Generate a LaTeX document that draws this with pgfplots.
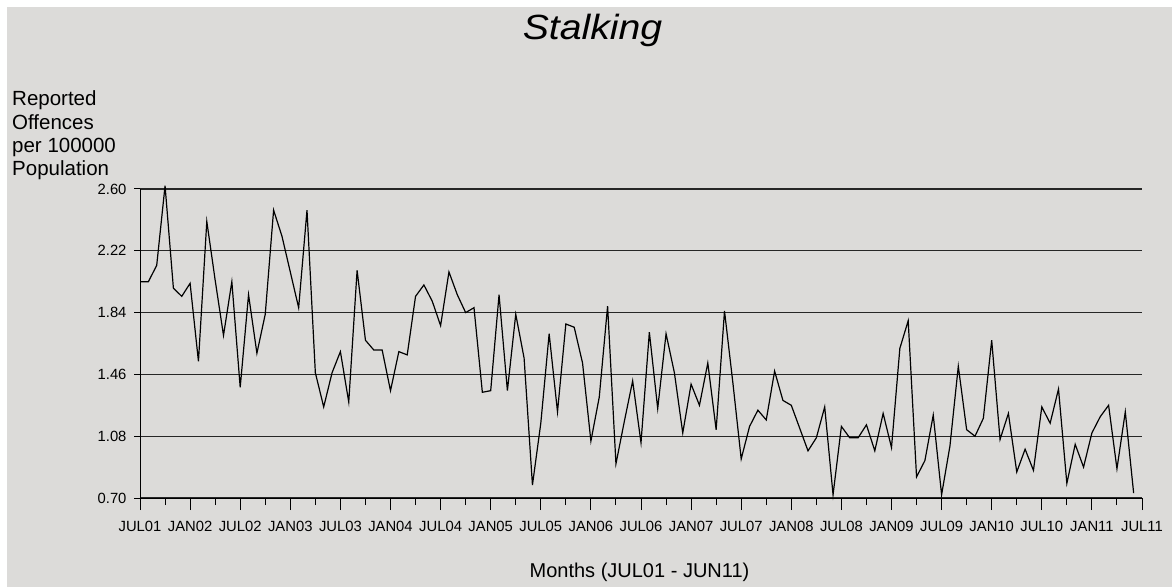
\documentclass[border=0pt]{standalone}
\usepackage{fontspec}
\setmainfont{Liberation Sans}
\usepackage{graphicx}
\usepackage{pgfplots}
\pgfplotsset{compat=1.18,
  /pgf/number format/assume math mode=true}
\usepackage{pgfplotstable}
\definecolor{bgc}{RGB}{220,219,217}
\pgfplotstableread{
m v
0 2.03
1 2.03
2 2.13
3 2.62
4 1.99
5 1.94
6 2.02
7 1.54
8 2.40
9 2.04
10 1.70
11 2.03
12 1.38
13 1.95
14 1.59
15 1.83
16 2.47
17 2.31
18 2.09
19 1.87
20 2.47
21 1.47
22 1.26
23 1.47
24 1.60
25 1.29
26 2.10
27 1.67
28 1.61
29 1.61
30 1.36
31 1.60
32 1.58
33 1.94
34 2.01
35 1.91
36 1.76
37 2.09
38 1.95
39 1.84
40 1.87
41 1.35
42 1.36
43 1.95
44 1.36
45 1.83
46 1.56
47 0.78
48 1.16
49 1.71
50 1.23
51 1.77
52 1.75
53 1.53
54 1.05
55 1.32
56 1.88
57 0.91
58 1.17
59 1.42
60 1.04
61 1.72
62 1.25
63 1.71
64 1.47
65 1.10
66 1.40
67 1.27
68 1.53
69 1.12
70 1.85
71 1.41
72 0.94
73 1.14
74 1.24
75 1.18
76 1.48
77 1.30
78 1.27
79 1.13
80 0.99
81 1.07
82 1.26
83 0.72
84 1.14
85 1.07
86 1.07
87 1.15
88 0.99
89 1.22
90 1.01
91 1.62
92 1.79
93 0.83
94 0.93
95 1.21
96 0.72
97 1.02
98 1.51
99 1.12
100 1.08
101 1.19
102 1.67
103 1.06
104 1.22
105 0.86
106 1.00
107 0.87
108 1.26
109 1.16
110 1.37
111 0.79
112 1.03
113 0.89
114 1.10
115 1.20
116 1.27
117 0.88
118 1.23
119 0.73
}\datatable
\begin{document}
\begin{tikzpicture}[x=1pt,y=1pt]
\useasboundingbox (0,0) rectangle (1172,587);
\fill[white] (0,0) rectangle (1172,587);
\fill[bgc] (7,0) rectangle (1172,580);
% y axis, gridlines, y tick labels
\begin{axis}[
  at={(140pt,89pt)}, anchor=south west,
  scale only axis, width=1002pt, height=309pt,
  xmin=0, xmax=120, ymin=0.70, ymax=2.60,
  axis lines*=left, axis line style={-, black, line width=1pt},
  hide x axis,
  ytick={0.70,1.08,1.46,1.84,2.22,2.60},
  yticklabel style={font=\fontsize{14.8}{17}\selectfont, text=black, xshift=-4pt, /pgf/number format/.cd, fixed, fixed zerofill, precision=2},
  tick align=outside, major tick length=6pt,
  tick style={black, line width=1pt},
  ymajorgrids, major grid style={black!85, line width=1.1pt},
]
\end{axis}
% x axis and data
\begin{axis}[
  at={(140pt,89pt)}, anchor=south west,
  scale only axis, width=1002pt, height=309pt,
  xmin=0, xmax=120, ymin=0.70, ymax=2.60,
  clip=false,
  axis lines*=left, axis line style={-, black, line width=1pt},
  hide y axis,
  xtick={0,6,...,120},
  xticklabels={JUL01,JAN02,JUL02,JAN03,JUL03,JAN04,JUL04,JAN05,JUL05,JAN06,JUL06,JAN07,JUL07,JAN08,JUL08,JAN09,JUL09,JAN10,JUL10,JAN11,JUL11},
  minor xtick={3,9,...,117},
  tick align=outside, major tick length=12pt, minor tick length=7pt,
  tick style={black, line width=1pt},
  xticklabel style={font=\fontsize{14.8}{17}\selectfont, text=black, yshift=-8pt},
]
\addplot[black, line width=1.2pt, mark=none] table[x=m, y=v] {\datatable};
\end{axis}
\node[anchor=base, inner sep=0, font=\fontsize{35}{42}\selectfont\itshape] at (592.5,547) {\scalebox{1.12}[1]{Stalking}};
\node[anchor=base west, inner sep=0, font=\fontsize{20.5}{24}\selectfont] at (12,481) {Reported};
\node[anchor=base west, inner sep=0, font=\fontsize{20.5}{24}\selectfont] at (12,457.7) {Offences};
\node[anchor=base west, inner sep=0, font=\fontsize{20.5}{24}\selectfont] at (12,434.4) {per 100000};
\node[anchor=base west, inner sep=0, font=\fontsize{20.5}{24}\selectfont] at (12,411) {Population};
\node[anchor=base, font=\fontsize{20}{24}\selectfont] at (639.5,10) {Months (JUL01 - JUN11)};
\end{tikzpicture}
\end{document}
